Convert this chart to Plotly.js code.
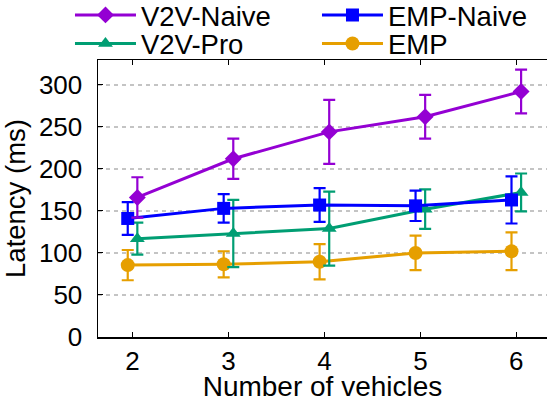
<!DOCTYPE html>
<html>
<head>
<meta charset="utf-8">
<script src="https://cdn.plot.ly/plotly-3.0.1.min.js"></script>
<style>html,body{margin:0;padding:0;background:#fff;}#chart{width:547px;height:402px;}</style>
</head>
<body>
<div id="chart"></div>
<script>
// ---- data ----
var vehicles = [2, 3, 4, 5, 6];
var v2vNaive = [166, 212, 244, 262, 292];
var v2vNaiveErr = [24, 24, 38, 26, 26];
var empNaive = [141, 153, 157, 156, 163];
var empNaiveErr = [19.5, 17, 20, 18, 28];
var v2vPro = [117, 123, 129, 152, 172];
var v2vProErr = [19, 40, 44, 23.5, 22.5];
var emp = [85.5, 86.5, 89.5, 100, 102];
var empErr = [18, 15.5, 21, 20.5, 22.5];
var yTicks = [0, 50, 100, 150, 200, 250, 300];

var FONT = 'Liberation Sans, Arial, sans-serif';
var FS = 26;
var FT = 27.5;

function shift(arr, d) { return arr.map(function (v) { return v + d; }); }

function mk(name, y, err, color, symbol, size, dx, legend) {
  return {
    type: 'scatter', mode: 'lines+markers', name: name,
    x: shift(vehicles, dx), y: y,
    line: {color: color, width: 3},
    marker: {color: color, symbol: symbol, size: size},
    error_y: {type: 'data', array: err, visible: true, color: color, thickness: 2.2, width: 6},
    legend: legend
  };
}

var traces = [
  mk('EMP', emp, empErr, '#e69f00', 'circle', 14, -0.05, 'legend2'),
  mk('V2V-Pro', v2vPro, v2vProErr, '#009e73', 'triangle-up', 13, 0.05, 'legend2'),
  mk('EMP-Naive', empNaive, empNaiveErr, '#0000ff', 'square', 13, -0.05, 'legend'),
  mk('V2V-Naive', v2vNaive, v2vNaiveErr, '#9400d3', 'diamond', 13, 0.05, 'legend')
];
traces[0].legendrank = 2; traces[1].legendrank = 1;
traces[2].legendrank = 2; traces[3].legendrank = 1;

var legendBase = {
  orientation: 'h', xref: 'paper', yref: 'paper',
  x: -0.0624, xanchor: 'left', yanchor: 'middle',
  entrywidth: 171, entrywidthmode: 'pixels', itemwidth: 61,
  font: {family: FONT, size: FT, color: '#000'},
  bgcolor: 'rgba(0,0,0,0)', traceorder: 'normal'
};

var layout = {
  width: 547, height: 402,
  margin: {l: 98, r: 0, t: 60, b: 65, autoexpand: false},
  paper_bgcolor: '#fff', plot_bgcolor: '#fff',
  font: {family: FONT, size: FS, color: '#000'},
  showlegend: true,
  legend: Object.assign({}, legendBase, {y: 1 + 45 / 277}),
  legend2: Object.assign({}, legendBase, {y: 1 + 16.4 / 277}),
  xaxis: {
    range: [1.64, 6.32],
    tickvals: vehicles, ticktext: vehicles.map(String),
    ticks: 'inside', ticklen: 5, tickwidth: 1, tickcolor: '#000',
    showline: true, linecolor: '#000', linewidth: 1.5, mirror: 'allticks',
    showgrid: false, zeroline: false,
    tickfont: {family: FONT, size: FS, color: '#000'},
    title: {text: 'Number of vehicles', font: {family: FONT, size: 28, color: '#000'}, standoff: 1}
  },
  yaxis: {
    range: [0, 329.5],
    tickvals: yTicks, ticktext: yTicks.map(String),
    ticks: 'inside', ticklen: 5, tickwidth: 1, tickcolor: '#000',
    showline: true, linecolor: '#000', linewidth: 1.5,
    showgrid: true, gridcolor: '#c4c4c4', gridwidth: 1.5, griddash: '4px,4px',
    zeroline: false, ticklabelstandoff: 9,
    tickfont: {family: FONT, size: FS, color: '#000'},
    title: {text: 'Latency (ms)', font: {family: FONT, size: FT, color: '#000'}, standoff: 5}
  }
};

Plotly.newPlot('chart', traces, layout, {displayModeBar: false, staticPlot: true});
</script>
</body>
</html>
